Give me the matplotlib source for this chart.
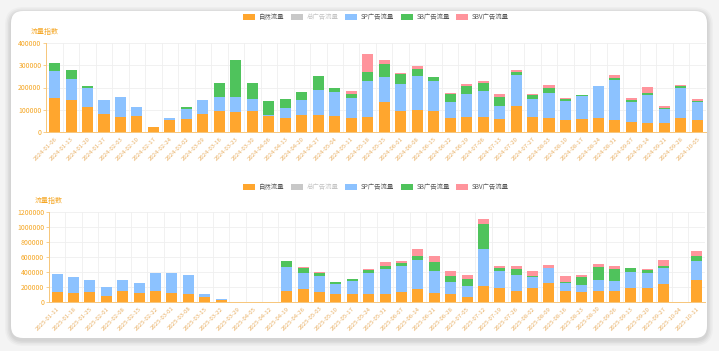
import matplotlib.pyplot as plt
import numpy as np
from matplotlib.patches import FancyBboxPatch, Patch

plt.rcParams['font.family'] = ['Noto Sans CJK SC', 'DejaVu Sans']

series_names = ['自然流量', '总广告流量', 'SP广告流量', 'SB广告流量', 'SBV广告流量']
colors = {
    '自然流量': '#ffa62e',
    '总广告流量': '#c8c8c8',
    'SP广告流量': '#8cc2ff',
    'SB广告流量': '#4fc35c',
    'SBV广告流量': '#ff949c',
}

# 2024
dates_2024 = ['2024-01-06', '2024-01-13', '2024-01-20', '2024-01-27', '2024-02-03', '2024-02-10',
              '2024-02-17', '2024-02-24', '2024-03-02', '2024-03-09', '2024-03-16', '2024-03-23',
              '2024-03-30', '2024-04-06', '2024-04-13', '2024-04-20', '2024-04-27', '2024-05-04',
              '2024-05-11', '2024-05-18', '2024-05-25', '2024-06-01', '2024-06-08', '2024-06-15',
              '2024-06-22', '2024-06-29', '2024-07-06', '2024-07-13', '2024-07-20', '2024-07-27',
              '2024-08-03', '2024-08-10', '2024-08-17', '2024-08-24', '2024-08-31', '2024-09-07',
              '2024-09-14', '2024-09-21', '2024-09-28', '2024-10-05']
natural_2024 = [151000, 142000, 114000, 80000, 68000, 71000, 24000, 56000, 59000, 81000,
                95000, 92000, 95000, 71000, 65000, 75000, 77000, 73000, 65000, 69000,
                136000, 94000, 101000, 94000, 65000, 69000, 69000, 57000, 117000, 69000,
                61000, 53000, 57000, 61000, 53000, 47000, 42000, 42000, 61000, 53000]
sp_2024 = [123000, 94000, 86000, 66000, 91000, 40000, 0, 7000, 46000, 63000,
           63000, 66000, 53000, 6000, 41000, 71000, 113000, 105000, 87000, 159000,
           113000, 121000, 151000, 136000, 70000, 104000, 114000, 60000, 139000, 79000,
           113000, 88000, 105000, 144000, 182000, 89000, 125000, 62000, 136000, 84000]
sb_2024 = [37000, 44000, 6000, 0, 0, 0, 0, 0, 9000, 0,
           62000, 167000, 71000, 64000, 43000, 36000, 60000, 19000, 18000, 40000,
           55000, 44000, 30000, 17000, 35000, 35000, 37000, 42000, 15000, 19000,
           23000, 6000, 3000, 3000, 7000, 7000, 7000, 3000, 9000, 3000]
sbv_2024 = [0, 0, 0, 0, 0, 0, 0, 0, 0, 0,
            0, 0, 0, 0, 0, 0, 0, 0, 16000, 83000,
            19000, 8000, 14000, 2000, 6000, 7000, 9000, 11000, 6000, 6000,
            15000, 6000, 0, 0, 15000, 8000, 30000, 11000, 3000, 10000]

# 2025
dates_2025 = ['2025-01-11', '2025-01-18', '2025-01-25', '2025-02-01', '2025-02-08', '2025-02-15',
              '2025-02-22', '2025-03-01', '2025-03-08', '2025-03-15', '2025-03-22', '2025-03-29',
              '2025-04-05', '2025-04-12', '2025-04-19', '2025-04-26', '2025-05-03', '2025-05-10',
              '2025-05-17', '2025-05-24', '2025-05-31', '2025-06-07', '2025-06-14', '2025-06-21',
              '2025-06-28', '2025-07-05', '2025-07-12', '2025-07-19', '2025-07-26', '2025-08-02',
              '2025-08-09', '2025-08-16', '2025-08-23', '2025-08-30', '2025-09-06', '2025-09-13',
              '2025-09-20', '2025-09-27', '2025-10-04', '2025-10-11']
natural_2025 = [134000, 121000, 125000, 76000, 148000, 112000, 143000, 112000, 107000, 63000,
                28000, 0, 0, 0, 150000, 166000, 134000, 98000, 98000, 98000,
                103000, 134000, 170000, 121000, 98000, 67000, 210000, 188000, 143000, 179000,
                251000, 148000, 125000, 148000, 143000, 179000, 188000, 233000, 0, 295000]
sp_2025 = [240000, 215000, 166000, 116000, 138000, 134000, 237000, 277000, 246000, 44000,
           6000, 0, 0, 0, 313000, 223000, 215000, 139000, 184000, 282000,
           340000, 349000, 385000, 291000, 162000, 148000, 497000, 224000, 215000, 152000,
           196000, 107000, 94000, 147000, 134000, 219000, 192000, 219000, 0, 251000]
sb_2025 = [0, 0, 0, 0, 0, 0, 0, 0, 0, 0,
           0, 0, 0, 0, 78000, 67000, 36000, 31000, 22000, 50000,
           40000, 40000, 58000, 120000, 89000, 89000, 340000, 44000, 80000, 14000,
           5000, 5000, 117000, 175000, 161000, 49000, 50000, 27000, 0, 62000]
sbv_2025 = [0, 0, 0, 0, 0, 0, 0, 0, 0, 0,
            0, 0, 0, 0, 10000, 5000, 13000, 0, 0, 13000,
            54000, 27000, 94000, 77000, 58000, 58000, 67000, 23000, 41000, 67000,
            45000, 80000, 17000, 40000, 45000, 0, 13000, 80000, 0, 68000]

ORANGE = '#f5a623'
AXIS_ORANGE = '#f7c67a'

fig = plt.figure(figsize=(7.19, 3.51), dpi=100)
fig.patch.set_facecolor('#f4f4f4')

# card background in pixel coordinates
bg = fig.add_axes([0, 0, 1, 1], zorder=-5)
bg.set_xlim(0, 719)
bg.set_ylim(351, 0)
bg.axis('off')
for i, a in enumerate([0.025, 0.03, 0.035, 0.04]):
    grow = 6 - i * 1.5
    bg.add_patch(FancyBboxPatch((11 - grow, 11 - grow + 2), 696 + 2 * grow, 327 + 2 * grow,
                                boxstyle=f'round,pad=0,rounding_size={12 + grow}',
                                facecolor='black', edgecolor='none', alpha=a))
bg.add_patch(FancyBboxPatch((11, 11), 696, 327, boxstyle='round,pad=0,rounding_size=12',
                            facecolor='white', edgecolor='none'))


def draw_panel(rect, dates, natural, sp, sb, sbv, ymax, ystep, legend_y, name_xy):
    ax = fig.add_axes(rect)
    x = np.arange(len(dates))
    width = 0.67
    bottom = np.zeros(len(dates))
    for name, vals in [('自然流量', natural), ('SP广告流量', sp),
                       ('SB广告流量', sb), ('SBV广告流量', sbv)]:
        vals = np.array(vals, dtype=float)
        ax.bar(x, vals, width, bottom=bottom, color=colors[name], zorder=3)
        bottom += vals

    ax.set_xlim(-0.5, len(dates) - 0.5)
    ax.set_ylim(0, ymax)
    ax.set_yticks(np.arange(0, ymax + 1, ystep))
    ax.set_yticklabels([str(int(v)) for v in np.arange(0, ymax + 1, ystep)])
    ax.set_xticks(x)
    ax.set_xticklabels(dates, rotation=45, ha='right', rotation_mode='anchor')
    ax.set_xticks(np.arange(-0.5, len(dates), 1), minor=True)

    ax.grid(axis='y', which='major', color='#efefef', lw=0.6, zorder=0)
    ax.grid(axis='x', which='minor', color='#efefef', lw=0.6, zorder=0)
    ax.tick_params(axis='x', which='major', length=0, pad=3, labelsize=4.3, labelcolor='#e9b167')
    ax.tick_params(axis='x', which='minor', length=0)
    ax.tick_params(axis='y', length=2.5, width=0.6, color=AXIS_ORANGE, pad=1,
                   labelsize=5, labelcolor=ORANGE)
    for s in ['top', 'right']:
        ax.spines[s].set_visible(False)
    for s in ['left', 'bottom']:
        ax.spines[s].set_color(AXIS_ORANGE)
        ax.spines[s].set_linewidth(0.7)
    ax.set_facecolor('none')

    fig.text(name_xy[0] / 719, 1 - name_xy[1] / 351, '流量指数', fontsize=5,
             color=ORANGE, ha='center', va='center')

    handles = [Patch(facecolor=colors[n], edgecolor='none') for n in series_names]
    leg = fig.legend(handles, series_names, loc='center', ncol=5,
                     bbox_to_anchor=(376 / 719, 1 - legend_y / 351),
                     frameon=False, fontsize=4.6, handlelength=1.9, handleheight=1.1,
                     handletextpad=0.6, columnspacing=1.0, borderpad=0)
    for t, n in zip(leg.get_texts(), series_names):
        t.set_color('#c4c4c4' if n == '总广告流量' else '#555555')
    return ax


draw_panel([46.3 / 719, 1 - 132 / 351, 659.3 / 719, 89 / 351], dates_2024,
           natural_2024, sp_2024, sb_2024, sbv_2024, 400000, 100000, 17.5, (45, 32))
draw_panel([49 / 719, 1 - 301.7 / 351, 655.7 / 719, 89.4 / 351], dates_2025,
           natural_2025, sp_2025, sb_2025, sbv_2025, 1200000, 200000, 187.5, (49, 201))

plt.savefig('out.png', dpi=100, facecolor=fig.get_facecolor())
